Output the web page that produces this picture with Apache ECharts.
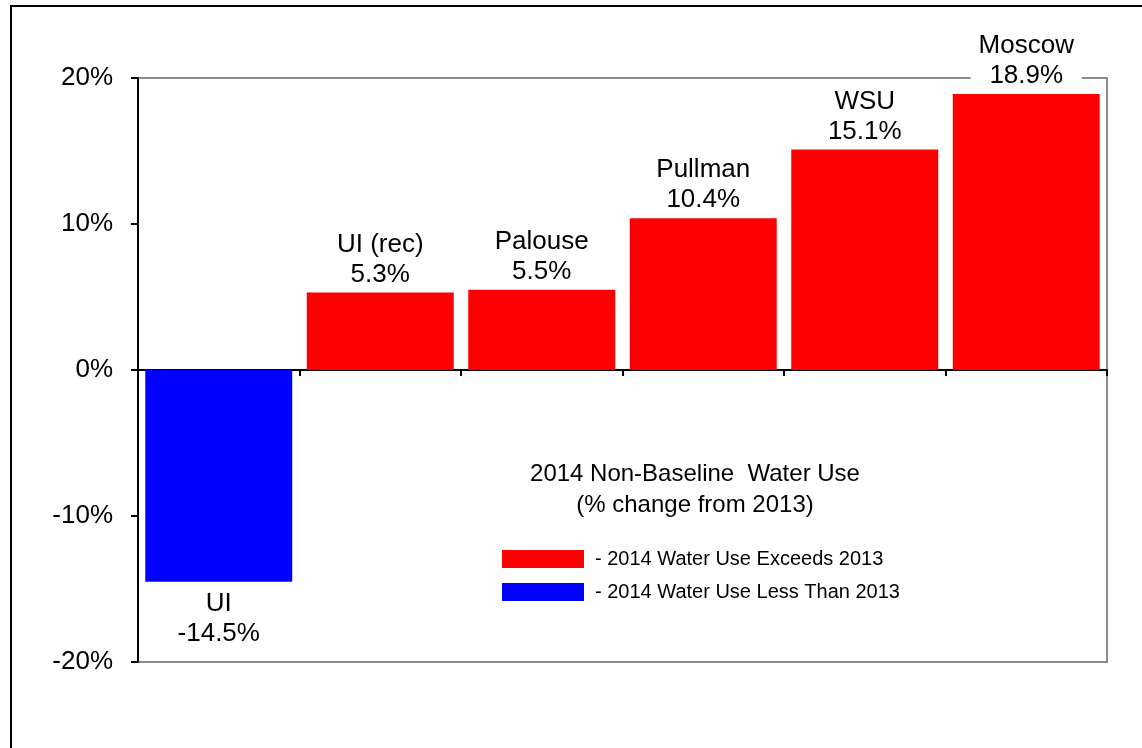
<!DOCTYPE html>
<html>
<head>
<meta charset="utf-8">
<script src="https://cdn.jsdelivr.net/npm/echarts@6/dist/echarts.min.js"></script>
<style>
html,body{margin:0;padding:0;background:#fff;}
#chart{width:1142px;height:748px;}
</style>
</head>
<body>
<div id="chart"></div>
<script>
const categories = ['UI', 'UI (rec)', 'Palouse', 'Pullman', 'WSU', 'Moscow'];
const values = [-14.5, 5.3, 5.5, 10.4, 15.1, 18.9];
const yTicks = [-20, -10, 0, 10, 20];
const legendNames = ['- 2014 Water Use Exceeds 2013', '- 2014 Water Use Less Than 2013'];
const titleLines = ['2014 Non-Baseline  Water Use', '(% change from 2013)'];

const FONT = '"Liberation Sans", Arial, sans-serif';
const exceeds = values.map(v => v >= 0 ? v : '-');
const less = values.map(v => v < 0 ? v : '-');

const labelCommon = {
  show: true,
  formatter: p => p.name + '\n' + p.value.toFixed(1) + '%',
  fontFamily: FONT,
  fontSize: 26,
  lineHeight: 30,
  color: '#000',
  backgroundColor: '#fff',
  padding: [0, 8, 0, 8]
};

const chart = echarts.init(document.getElementById('chart'));
chart.setOption({
  animation: false,
  backgroundColor: '#fff',
  grid: {
    left: 138, right: 35, top: 78, bottom: 86,
    show: true, borderColor: '#8c8c8c', borderWidth: 2, backgroundColor: 'transparent'
  },
  legend: {
    orient: 'vertical',
    left: 497, top: 544,
    itemWidth: 82, itemHeight: 18, itemGap: 13,
    icon: 'rect',
    textStyle: { fontFamily: FONT, fontSize: 20, color: '#000', padding: [0, 0, 0, 6] },
    data: legendNames
  },
  xAxis: {
    type: 'category',
    data: categories,
    axisLine: { onZero: true, lineStyle: { color: '#000', width: 2 } },
    axisTick: { show: true, length: 6, lineStyle: { color: '#000', width: 2 } },
    axisLabel: { show: false },
    splitLine: { show: false }
  },
  yAxis: {
    type: 'value',
    min: yTicks[0], max: yTicks[yTicks.length - 1], interval: 10,
    axisLine: { show: true, lineStyle: { color: '#000', width: 2 } },
    axisTick: { show: true, length: 7, lineStyle: { color: '#000', width: 2 } },
    axisLabel: { formatter: '{value}%', fontFamily: FONT, fontSize: 26, color: '#000', margin: 25 },
    splitLine: { show: false }
  },
  series: [
    {
      name: legendNames[0], type: 'bar', data: exceeds,
      barCategoryGap: '9%', barGap: '-100%',
      itemStyle: { color: '#ff0000' },
      label: Object.assign({ position: 'top', distance: 3 }, labelCommon)
    },
    {
      name: legendNames[1], type: 'bar', data: less,
      barCategoryGap: '9%', barGap: '-100%',
      itemStyle: { color: '#0000ff' },
      label: Object.assign({ position: 'bottom', distance: 7 }, labelCommon)
    }
  ],
  graphic: [
    {
      type: 'rect', silent: true, z: 100,
      shape: { x: 11, y: 6, width: 1200, height: 800 },
      style: { fill: 'none', stroke: '#000', lineWidth: 2 }
    },
    {
      type: 'text', z: 100,
      style: {
        x: 695, y: 459, text: titleLines.join('\n'),
        textAlign: 'center', textVerticalAlign: 'top',
        font: '24px ' + FONT, lineHeight: 31, fill: '#000'
      }
    }
  ]
});
</script>
</body>
</html>
